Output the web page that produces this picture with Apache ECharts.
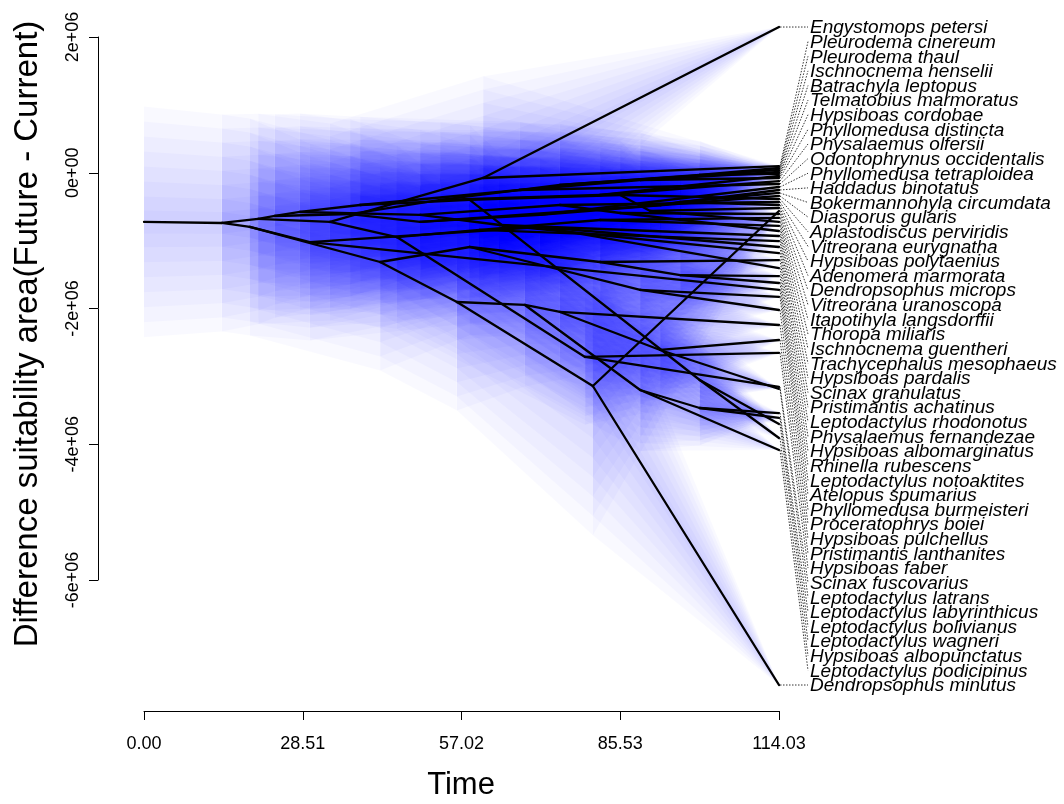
<!DOCTYPE html>
<html>
<head>
<meta charset="utf-8">
<script src="https://cdn.jsdelivr.net/npm/echarts/dist/echarts.min.js"></script>
<style>
html,body{margin:0;padding:0;background:#fff;}
#chart{width:1064px;height:804px;}
</style>
</head>
<body>
<div id="chart"></div>
<script>
// ---- tick labels ----
const xTickValues = [0, 28.5075, 57.015, 85.5225, 114.03];
const xTickLabels = ['0.00', '28.51', '57.02', '85.53', '114.03'];
const yTickValues = [-6e6, -4e6, -2e6, 0, 2e6];
const yTickLabels = ['-6e+06', '-4e+06', '-2e+06', '0e+00', '2e+06'];

// ---- tips (sorted top to bottom) ----
const treeDepth = 114.03;
const species = ["Engystomops petersi","Pleurodema cinereum","Pleurodema thaul","Ischnocnema henselii","Batrachyla leptopus","Telmatobius marmoratus","Hypsiboas cordobae","Phyllomedusa distincta","Physalaemus olfersii","Odontophrynus occidentalis","Phyllomedusa tetraploidea","Haddadus binotatus","Bokermannohyla circumdata","Diasporus gularis","Aplastodiscus perviridis","Vitreorana eurygnatha","Hypsiboas polytaenius","Adenomera marmorata","Dendropsophus microps","Vitreorana uranoscopa","Itapotihyla langsdorffii","Thoropa miliaris","Ischnocnema guentheri","Trachycephalus mesophaeus","Hypsiboas pardalis","Scinax granulatus","Pristimantis achatinus","Leptodactylus rhodonotus","Physalaemus fernandezae","Hypsiboas albomarginatus","Rhinella rubescens","Leptodactylus notoaktites","Atelopus spumarius","Phyllomedusa burmeisteri","Proceratophrys boiei","Hypsiboas pulchellus","Pristimantis lanthanites","Hypsiboas faber","Scinax fuscovarius","Leptodactylus latrans","Leptodactylus labyrinthicus","Leptodactylus bolivianus","Leptodactylus wagneri","Hypsiboas albopunctatus","Leptodactylus podicipinus","Dendropsophus minutus"];
const tipValue = [2.147e6, 0.099e6, 0.070e6, 0.041e6, 0.011e6, -0.018e6, -0.048e6, -0.077e6, -0.122e6, -0.166e6, -0.210e6, -0.254e6, -0.298e6, -0.342e6, -0.387e6, -0.431e6, -0.475e6, -0.519e6, -0.563e6, -0.608e6, -0.666e6, -0.725e6, -0.784e6, -0.858e6, -0.932e6, -1.006e6, -1.094e6, -1.183e6, -1.286e6, -1.404e6, -1.522e6, -1.624e6, -1.727e6, -1.830e6, -2.022e6, -2.243e6, -2.464e6, -2.655e6, -3.156e6, -3.186e6, -3.540e6, -3.613e6, -3.701e6, -3.908e6, -4.085e6, -7.547e6];

// ---- internal nodes: id, time, estimated value, 95% CI half width ----
const nodeId    = ['R','A','C','B','L1','M','U1','G1','V1','G2','E','Q1','V2','V3','L2','P1','D1','Q3','Q4','Q5','Q6','Q7','L3','L4','L5','M2','Q2','W1','W2','Y','Y2','Y3','V4','V5','V6','V7','G3','G4','G5','G6','G7','G8','H1','G9','G10','G11'];
const nodeTime  = [0,14.0,19.0,20.5,42.4,29.8,33.4,23.5,28.0,37.0,60.9,45.4,38.8,49.6,58.5,56.2,80.6,68.4,89.1,74.7,99.8,92.7,81.9,89.1,96.3,71.1,79.2,60.3,81.9,58.5,85.5,99.8,67.5,89.1,74.7,63.9,53.2,49.6,74.7,81.9,71.1,92.7,99.8,85.5,96.3,90.9];
const nodeValue = [-0.725e6,-0.740e6,-0.799e6,-0.681e6,-1.315e6,-1.021e6,-0.725e6,-0.637e6,-0.578e6,-0.608e6,-0.077e6,-0.947e6,-0.475e6,-0.622e6,-1.094e6,-1.904e6,-3.142e6,-1.948e6,-3.201e6,-2.051e6,-3.466e6,-2.611e6,-1.315e6,-1.727e6,-1.507e6,-0.799e6,-2.714e6,-0.843e6,-0.696e6,-0.401e6,-0.328e6,-3.053e6,-0.254e6,-0.107e6,-0.475e6,-0.770e6,-0.401e6,-0.725e6,-0.180e6,-0.328e6,-0.622e6,-0.475e6,-0.033e6,-0.593e6,-0.431e6,-0.563e6];
const nodeCI    = [1.7e6,1.6e6,1.6e6,1.55e6,1.6e6,1.45e6,1.45e6,1.5e6,1.45e6,1.4e6,1.5e6,1.35e6,1.3e6,1.25e6,1.3e6,1.6e6,2.2e6,1.2e6,0.9e6,1.0e6,0.55e6,0.75e6,0.95e6,0.8e6,0.6e6,1.0e6,1.0e6,1.1e6,0.8e6,1.1e6,0.8e6,0.55e6,1.0e6,0.7e6,0.95e6,1.05e6,1.15e6,1.15e6,0.9e6,0.8e6,0.95e6,0.7e6,0.5e6,0.75e6,0.5e6,0.6e6];

// ---- edges parent -> child (tips are t1..t46) ----
const edges = [
['R','A'],['A','C'],['A','B'],['C','L1'],['C','M'],['B','U1'],['B','G1'],['G1','V1'],['G1','G2'],['U1','E'],['U1','Q1'],['V1','V2'],['V1','V3'],['G2','G3'],['G2','G4'],
['E','t1'],['E','t2'],['Q1','Q2'],['Q1','W1'],['V2','Y'],['V2','V4'],['V3','V6'],['V3','V7'],['L1','L2'],['L1','P1'],['P1','D1'],['P1','Q3'],['D1','t46'],['D1','t19'],
['Q3','Q4'],['Q3','Q5'],['Q4','t45'],['Q4','Q6'],['Q6','t41'],['Q6','t42'],['Q5','t36'],['Q5','Q7'],['Q7','t37'],['Q7','t40'],['L2','L3'],['L2','L4'],['L3','t29'],['L3','L5'],
['L5','t31'],['L5','t32'],['L4','t34'],['L4','t35'],['M','M2'],['M','t33'],['M2','t27'],['M2','t30'],['Q2','t38'],['Q2','t39'],['W1','W2'],['W1','t26'],['W2','t21'],['W2','t23'],
['Y','Y2'],['Y','Y3'],['Y2','t15'],['Y2','G11'],['G11','t22'],['G11','t18'],['Y3','t43'],['Y3','t44'],['V4','V5'],['V4','t10'],['V5','t5'],['V5','t8'],['V6','t16'],['V6','G9'],
['G9','t24'],['G9','t20'],['V7','t25'],['V7','t28'],['G3','G5'],['G3','G6'],['G4','G7'],['G4','G8'],['G5','H1'],['G5','t4'],['H1','t3'],['H1','t6'],['G6','t7'],['G6','t9'],
['G7','t11'],['G7','t14'],['G8','t12'],['G8','G10'],['G10','t13'],['G10','t17']
];

// ---- build lookup ----
const nodes = {};
nodeId.forEach((id, i) => { nodes[id] = {t: nodeTime[i], v: nodeValue[i], w: nodeCI[i]}; });
species.forEach((s, i) => { nodes['t' + (i + 1)] = {t: treeDepth, v: tipValue[i], w: 0}; });

const edgeData = edges.map(([p, c]) => [nodes[p].t, nodes[p].v, nodes[p].w, nodes[c].t, nodes[c].v, nodes[c].w]);

// labels spread evenly between extreme tips
const vMax = Math.max(...tipValue), vMin = Math.min(...tipValue);
const labelData = species.map((s, i) => [treeDepth, tipValue[i], vMax - i * (vMax - vMin) / (species.length - 1), i]);

const ciLevels = [1, 0.87, 0.74, 0.61, 0.48, 0.35, 0.22, 0.1];

const chart = echarts.init(document.getElementById('chart'), null, {renderer: 'canvas'});
chart.setOption({
  animation: false,
  backgroundColor: '#ffffff',
  grid: {left: 144, right: 285, top: 37, bottom: 224, containLabel: false},
  xAxis: {
    type: 'value', min: 0, max: 114.03, offset: 131,
    axisLine: {show: true, onZero: false, lineStyle: {color: '#000', width: 1}},
    axisTick: {show: true, customValues: xTickValues, length: 9, lineStyle: {color: '#000', width: 1}},
    axisLabel: {customValues: xTickValues, showMinLabel: true, showMaxLabel: true, margin: 24, fontSize: 18, color: '#000', fontFamily: 'Liberation Sans',
      formatter: function (v) { let k = 0; xTickValues.forEach((t, i) => { if (Math.abs(t - v) < Math.abs(xTickValues[k] - v)) k = i; }); return xTickLabels[k]; }},
    splitLine: {show: false}
  },
  yAxis: {
    type: 'value', min: -6e6, max: 2e6, offset: 46,
    axisLine: {show: true, onZero: false, lineStyle: {color: '#000', width: 1}},
    axisTick: {show: true, customValues: yTickValues, length: 9, lineStyle: {color: '#000', width: 1}},
    axisLabel: {customValues: yTickValues, rotate: 90, showMinLabel: true, showMaxLabel: true, margin: 16, fontSize: 18, color: '#000', fontFamily: 'Liberation Sans',
      formatter: function (v) { let k = 0; yTickValues.forEach((t, i) => { if (Math.abs(t - v) < Math.abs(yTickValues[k] - v)) k = i; }); return yTickLabels[k]; }},
    splitLine: {show: false}
  },
  graphic: [
    {type: 'text', x: 28, y: 334, rotation: Math.PI / 2, style: {text: 'Difference suitability area(Future - Current)', fontSize: 33, fontFamily: 'Liberation Sans', fill: '#000', align: 'center', verticalAlign: 'middle'}},
    {type: 'text', x: 461, y: 785, style: {text: 'Time', fontSize: 31, fontFamily: 'Liberation Sans', fill: '#000', align: 'center', verticalAlign: 'middle'}}
  ],
  series: [
    {
      type: 'custom', name: 'ci', clip: false, silent: true, z: 1,
      data: edgeData,
      renderItem: function (params, api) {
        const tp = api.value(0), vp = api.value(1), wp = api.value(2), tc = api.value(3), vc = api.value(4), wc = api.value(5);
        return {type: 'group', children: ciLevels.map(f => ({
          type: 'polygon',
          shape: {points: [api.coord([tp, vp + wp * f]), api.coord([tc, vc + wc * f]), api.coord([tc, vc - wc * f]), api.coord([tp, vp - wp * f])]},
          style: {fill: 'rgba(0,0,255,0.024)'}
        }))};
      }
    },
    {
      type: 'custom', name: 'tree', clip: false, silent: true, z: 3,
      data: edgeData,
      renderItem: function (params, api) {
        const a = api.coord([api.value(0), api.value(1)]);
        const b = api.coord([api.value(3), api.value(4)]);
        return {type: 'line', shape: {x1: a[0], y1: a[1], x2: b[0], y2: b[1]}, style: {stroke: '#000', lineWidth: 2.3, lineCap: 'round'}};
      }
    },
    {
      type: 'custom', name: 'labels', clip: false, silent: true, z: 4,
      data: labelData,
      renderItem: function (params, api) {
        const tip = api.coord([api.value(0), api.value(1)]);
        const lab = api.coord([api.value(0), api.value(2)]);
        const idx = api.value(3);
        return {type: 'group', children: [
          {type: 'line', shape: {x1: tip[0] + 1, y1: tip[1], x2: tip[0] + 29, y2: lab[1]}, style: {stroke: '#333', lineWidth: 1, lineDash: [1.5, 1.5]}},
          {type: 'text', x: tip[0] + 31, y: lab[1] + 1, style: {text: species[idx], fontSize: 19, fontStyle: 'italic', fontFamily: 'Liberation Sans', fill: '#000', align: 'left', verticalAlign: 'middle'}}
        ]};
      }
    }
  ]
});
</script>
</body>
</html>
